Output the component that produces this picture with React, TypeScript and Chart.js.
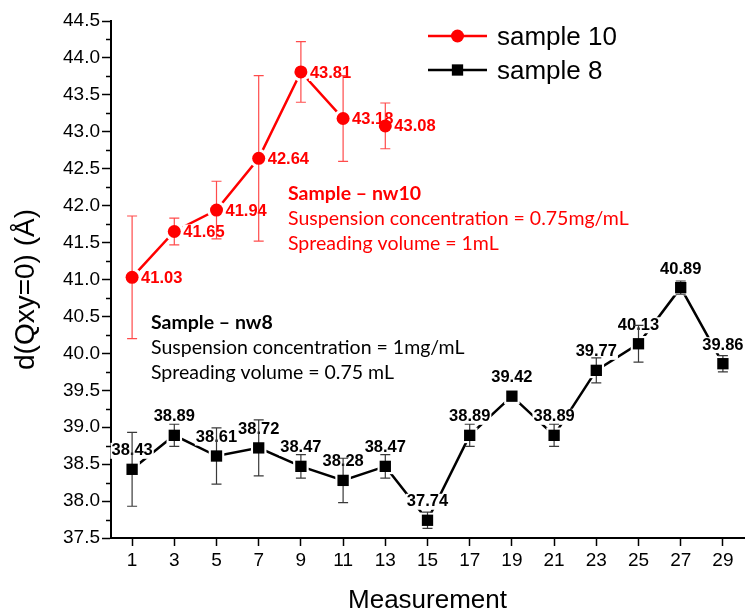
import React, { useEffect, useRef } from "react";
import { Chart, registerables } from "chart.js";

Chart.register(...registerables);

const xTickValues = [1, 3, 5, 7, 9, 11, 13, 15, 17, 19, 21, 23, 25, 27, 29];

const sample10X = [1, 3, 5, 7, 9, 11, 13];
const sample10Y = [41.03, 41.65, 41.94, 42.64, 43.81, 43.18, 43.08];
const sample10Err = [0.83, 0.18, 0.39, 1.12, 0.41, 0.58, 0.31];

const sample8X = [1, 3, 5, 7, 9, 11, 13, 15, 17, 19, 21, 23, 25, 27, 29];
const sample8Y = [38.43, 38.89, 38.61, 38.72, 38.47, 38.28, 38.47, 37.74, 38.89, 39.42, 38.89, 39.77, 40.13, 40.89, 39.86];
const sample8Err = [0.5, 0.15, 0.38, 0.38, 0.16, 0.3, 0.16, 0.11, 0.15, 0.05, 0.15, 0.17, 0.25, 0.09, 0.11];

const legendLabels = ["sample 10", "sample 8"];
const note10 = ["Sample \u2013 nw10", "Suspension concentration = 0.75mg/mL", "Spreading volume = 1mL"];
const note8 = ["Sample \u2013 nw8", "Suspension concentration = 1mg/mL", "Spreading volume = 0.75 mL"];
const xTitle = "Measurement";
const yTitle = "d(Qxy=0) (\u00C5)";

const RED = "#ff0000";
const BLACK = "#000000";
const SANS = "'Liberation Sans', Arial, sans-serif";
const NOTE_FONT = "Lato, 'Open Sans', sans-serif";

const toPts = (xs: number[], ys: number[]) => xs.map((x, i) => ({ x, y: ys[i] }));

function drawMarker(ctx: CanvasRenderingContext2D, shape: string, x: number, y: number, r: number, color: string) {
  ctx.fillStyle = color;
  ctx.beginPath();
  if (shape === "circle") {
    ctx.arc(x, y, r, 0, Math.PI * 2);
  } else {
    const h = r * Math.SQRT1_2;
    ctx.rect(x - h, y - h, 2 * h, 2 * h);
  }
  ctx.fill();
}

const seriesInfo = [
  { xs: sample10X, ys: sample10Y, err: sample10Err, color: RED, errColor: "rgba(255,30,30,0.8)", shape: "circle", r: 6.5, label: "right" },
  { xs: sample8X, ys: sample8Y, err: sample8Err, color: BLACK, errColor: "#3a3a3a", shape: "rect", r: 8, label: "top" },
];

function drawOverlay(chart: any) {
  const ctx: CanvasRenderingContext2D = chart.ctx;
  const xs = chart.scales.x;
  const ys = chart.scales.y;
  ctx.save();
  seriesInfo.forEach((s) => {
    s.xs.forEach((xv, i) => {
      const px = xs.getPixelForValue(xv);
      const py = ys.getPixelForValue(s.ys[i]);
      drawMarker(ctx, s.shape, px, py, s.r + 3, "#ffffff");
    });
  });
  ctx.font = `bold 16.5px ${SANS}`;
  ctx.textBaseline = "middle";
  seriesInfo.forEach((s) => {
    s.xs.forEach((xv, i) => {
      const px = xs.getPixelForValue(xv);
      const py = ys.getPixelForValue(s.ys[i]);
      const txt = s.ys[i].toFixed(2);
      const w = ctx.measureText(txt).width;
      let lx: number, ly: number;
      if (s.label === "right") {
        lx = px + 9;
        ly = py + 1;
      } else {
        lx = px - w / 2;
        ly = py - 18.5;
      }
      ctx.fillStyle = "#ffffff";
      ctx.fillRect(lx - 1, ly - 8, w + 2, 16);
      ctx.fillStyle = s.color;
      ctx.textAlign = "left";
      ctx.fillText(txt, lx, ly);
    });
  });
  seriesInfo.forEach((s) => {
    ctx.strokeStyle = s.errColor;
    ctx.lineWidth = 1.2;
    s.xs.forEach((xv, i) => {
      const px = xs.getPixelForValue(xv);
      const top = ys.getPixelForValue(s.ys[i] + s.err[i]);
      const bot = ys.getPixelForValue(s.ys[i] - s.err[i]);
      ctx.beginPath();
      ctx.moveTo(px, top);
      ctx.lineTo(px, bot);
      ctx.moveTo(px - 5, top);
      ctx.lineTo(px + 5, top);
      ctx.moveTo(px - 5, bot);
      ctx.lineTo(px + 5, bot);
      ctx.stroke();
    });
  });
  ctx.restore();
}

const overlayPlugin = {
  id: "overlay",
  beforeDraw(chart: any) {
    chart.$ovDone = false;
  },
  beforeDatasetDraw(chart: any, args: any) {
    if (chart.$ovDone) return;
    const ds = chart.data.datasets[args.index];
    if (!ds.isMarker) return;
    chart.$ovDone = true;
    drawOverlay(chart);
  },
  afterDraw(chart: any) {
    const ctx: CanvasRenderingContext2D = chart.ctx;
    const ca = chart.chartArea;
    const ys = chart.scales.y;
    ctx.save();
    ctx.strokeStyle = "#000";
    ctx.lineWidth = 1.5;
    for (let v = 37.75; v < 44.5; v += 0.5) {
      const py = Math.round(ys.getPixelForValue(v)) + 0.5;
      ctx.beginPath();
      ctx.moveTo(ca.left - 5, py);
      ctx.lineTo(ca.left, py);
      ctx.stroke();
    }
    ctx.fillStyle = "#000";
    ctx.font = `26px ${SANS}`;
    ctx.textAlign = "center";
    ctx.textBaseline = "middle";
    ctx.fillText(xTitle, (ca.left + ca.right) / 2, 601);
    ctx.save();
    ctx.font = `28px ${SANS}`;
    ctx.translate(26, (ca.top + ca.bottom) / 2 + 10);
    ctx.rotate(-Math.PI / 2);
    ctx.fillText(yTitle, 0, 0);
    ctx.restore();
    const legendRows = [
      { y: 36, color: RED, shape: "circle", r: 6.5 },
      { y: 70, color: BLACK, shape: "rect", r: 8 },
    ];
    legendRows.forEach((row, i) => {
      ctx.strokeStyle = row.color;
      ctx.lineWidth = 2.5;
      ctx.beginPath();
      ctx.moveTo(428, row.y);
      ctx.lineTo(487, row.y);
      ctx.stroke();
      drawMarker(ctx, row.shape, 457.5, row.y, row.r, row.color);
      ctx.fillStyle = "#000";
      ctx.font = `26px ${SANS}`;
      ctx.textAlign = "left";
      ctx.textBaseline = "middle";
      ctx.fillText(legendLabels[i], 497, row.y + 2);
    });
    const drawNote = (lines: string[], x: number, y0: number, color: string) => {
      ctx.fillStyle = color;
      ctx.textAlign = "left";
      ctx.textBaseline = "middle";
      lines.forEach((t, i) => {
        ctx.font = `${i === 0 ? "bold " : ""}19.5px ${NOTE_FONT}`;
        ctx.fillText(t, x, y0 + i * 25);
      });
    };
    drawNote(note10, 288, 194, RED);
    drawNote(note8, 151, 323, "#000");
    ctx.restore();
  },
};

export default function App() {
  const ref = useRef<HTMLCanvasElement | null>(null);
  useEffect(() => {
    if (!ref.current) return;
    const chart = new Chart(ref.current, {
      type: "line",
      data: {
        datasets: [
          { label: legendLabels[0], data: toPts(sample10X, sample10Y), borderColor: RED, borderWidth: 2.5, pointRadius: 0, order: 1, showLine: true } as any,
          { label: legendLabels[1], data: toPts(sample8X, sample8Y), borderColor: BLACK, borderWidth: 2.5, pointRadius: 0, order: 1, showLine: true } as any,
          { label: "m10", isMarker: true, data: toPts(sample10X, sample10Y), showLine: false, pointStyle: "circle", pointRadius: 6.5, pointBorderWidth: 0, pointBackgroundColor: RED, pointBorderColor: RED, order: 0, clip: false } as any,
          { label: "m8", isMarker: true, data: toPts(sample8X, sample8Y), showLine: false, pointStyle: "rect", pointRadius: 8, pointBorderWidth: 0, pointBackgroundColor: BLACK, pointBorderColor: BLACK, order: 0, clip: false } as any,
        ],
      },
      options: {
        responsive: false,
        animation: false,
        devicePixelRatio: 1,
        layout: { autoPadding: false, padding: { top: 21, right: 2, left: 0, bottom: 0 } },
        plugins: { legend: { display: false }, tooltip: { enabled: false } },
        scales: {
          x: {
            type: "linear",
            min: 0,
            max: 30,
            afterBuildTicks: (scale: any) => {
              scale.ticks = xTickValues.map((v) => ({ value: v }));
            },
            afterFit: (scale: any) => {
              scale.height = 75;
              scale.paddingLeft = 0;
              scale.paddingRight = 0;
            },
            ticks: {
              autoSkip: false,
              color: "#000",
              font: { family: SANS, size: 19 },
              padding: 3,
              maxRotation: 0,
              callback: (v: any) => String(v),
            },
            grid: { display: true, drawOnChartArea: false, drawTicks: true, tickLength: 8, tickColor: "#000", tickWidth: 1.5 },
            border: { display: true, color: "#000", width: 2 },
          },
          y: {
            type: "linear",
            min: 37.5,
            max: 44.5,
            afterFit: (scale: any) => {
              scale.width = 111;
            },
            ticks: {
              stepSize: 0.5,
              color: "#000",
              font: { family: SANS, size: 19 },
              padding: 2,
              callback: (v: any) => Number(v).toFixed(1),
            },
            grid: { display: true, drawOnChartArea: false, drawTicks: true, tickLength: 9, tickColor: "#000", tickWidth: 1.5 },
            border: { display: true, color: "#000", width: 2 },
          },
        },
      },
      plugins: [overlayPlugin],
    } as any);
    return () => chart.destroy();
  }, []);
  return (
    <div style={{ position: "absolute", left: 0, top: 0, width: 746, height: 613, background: "#fff" }}>
      <canvas ref={ref} width={746} height={613} />
    </div>
  );
}
